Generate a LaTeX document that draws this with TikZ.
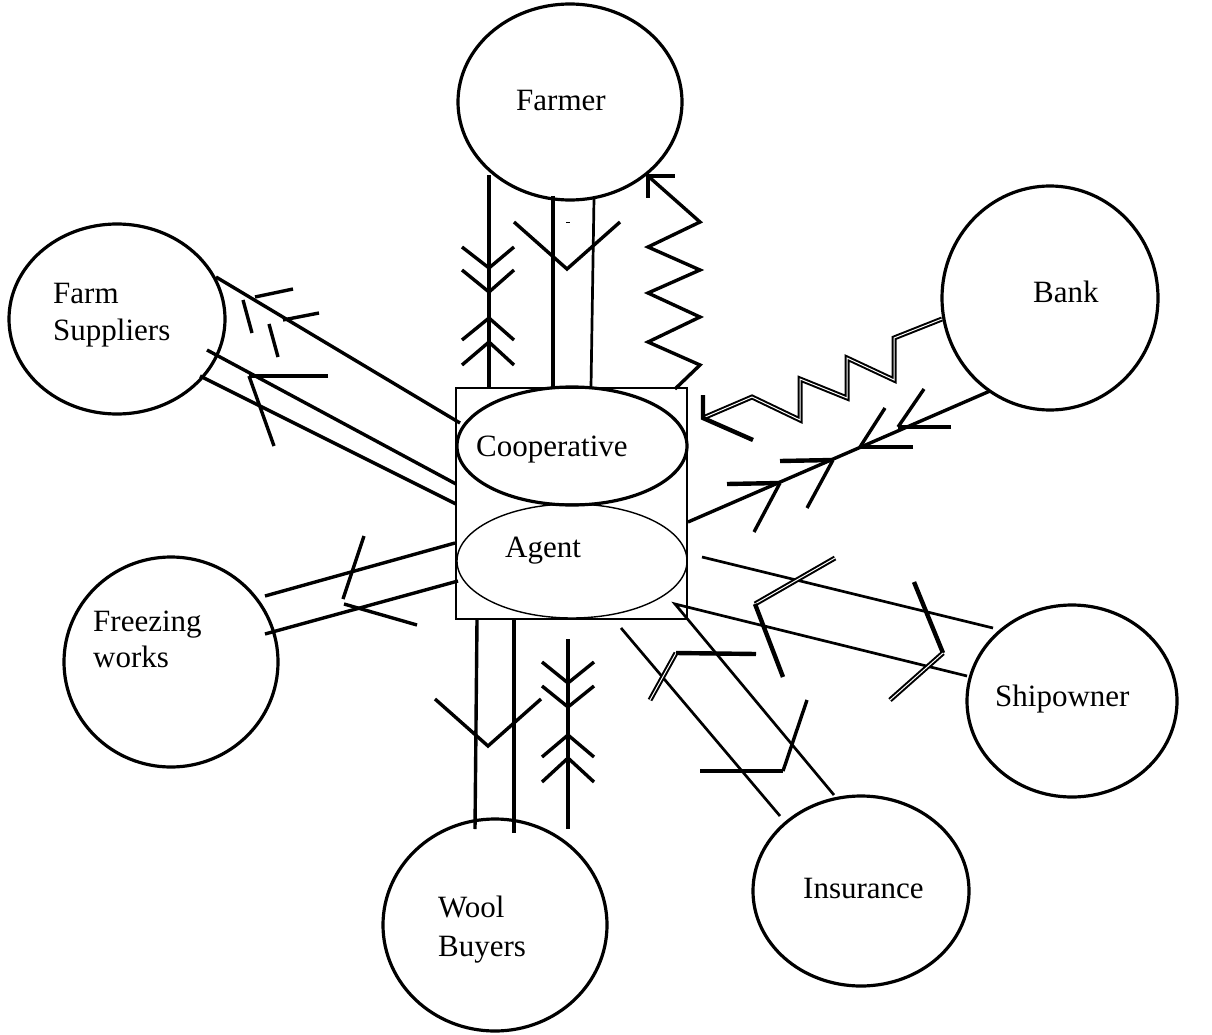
\documentclass[tikz,border=0pt]{standalone}
\usepackage{fontspec}
\setmainfont{Liberation Serif}
\usetikzlibrary{shapes.geometric}
\newcommand{\lbfont}{\fontsize{31}{37}\selectfont}
\begin{document}
\begin{tikzpicture}[x=1pt,y=-1pt,
  circ/.style={draw, line width=3.2pt, ellipse, inner sep=0pt, outer sep=0pt},
  conn/.style={line width=3.4pt},
  thinconn/.style={line width=2.7pt},
  bar/.style={line width=4.4pt},
  dbl/.style={double, line width=2pt, double distance=1pt},
  lbl/.style={anchor=base west, inner sep=0pt, font=\lbfont}]
\useasboundingbox (0,0) rectangle (1212,1035);

% ---------- outer circles ----------
\node[circ, minimum width=224pt, minimum height=196pt] (farmer) at (570,102) {};
\node[circ, minimum width=216pt, minimum height=190pt] (supp) at (117,319) {};
\node[circ, minimum width=216pt, minimum height=224pt] (bank) at (1050,298) {};
\node[circ, minimum width=214pt, minimum height=210pt] (freeze) at (171,662) {};
\node[circ, minimum width=224pt, minimum height=212pt] (wool) at (495,925) {};
\node[circ, minimum width=216pt, minimum height=190pt] (insur) at (861,891) {};
\node[circ, minimum width=210pt, minimum height=192pt] (ship) at (1072,701) {};

% ---------- labels ----------
\node[lbl] (tfarmer) at (516,111) {Farmer};
\node[lbl] (tfarm) at (53,303) {Farm};
\node[lbl] (tsupp) at (53,340) {Suppliers};
\node[lbl] (tbank) at (1033,302) {Bank};
\node[lbl] (tfreeze) at (93,631) {Freezing};
\node[lbl] (tworks) at (93,667) {works};
\node[lbl] (twool) at (438,917) {Wool};
\node[lbl] (tbuy) at (438,956) {Buyers};
\node[lbl] (tins) at (803,898) {Insurance};
\node[lbl] (tship) at (995,706) {Shipowner};

% ---------- central box ----------
\node[draw, line width=1.4pt, minimum width=231pt, minimum height=231pt, inner sep=0pt] (box) at (571.5,503.5) {};
\node[draw, ellipse, line width=3.2pt, minimum width=230pt, minimum height=118pt, inner sep=0pt] (coop) at (572,446) {};
\node[draw, ellipse, line width=1.4pt, minimum width=230pt, minimum height=114pt, inner sep=0pt] (agent) at (572,561) {};
\node[lbl] (tcoop) at (476,456) {Cooperative};
\node[lbl] (tagent) at (505,557) {Agent};

% ---------- Farmer connectors ----------
\draw[conn] (489,175) -- (489,389);
\draw[conn] (462,247) -- (489,268) -- (514,247);
\draw[conn] (462,270) -- (489,292) -- (514,270);
\draw[conn] (462,340) -- (489,318) -- (514,340);
\draw[conn] (462,365) -- (489,342) -- (514,365);
\draw[conn] (553,196) -- (553,389);
\draw[conn] (514,222) -- (567,269) -- (620,222);
\draw[line width=1pt] (566,222) -- (570,222);
\draw[thinconn] (594,198) -- (591,387);
\draw[conn, line join=miter] (675,389) -- (700,365) -- (648,342) -- (700,317) -- (648,293)
   -- (700,270) -- (648,247) -- (700,222) -- (648,176);
\draw[bar] (648,198) -- (648,176) -- (675,176);

% ---------- Bank connectors ----------
\draw[dbl] (942,319) -- (894,338) -- (894,380) -- (847,358) -- (847,398) -- (800,379)
   -- (800,420) -- (752,397) -- (703,418);
\draw[bar] (703,395) -- (703,418) -- (753,440);
\draw[conn] (990,391) -- (688,522);
\draw[bar] (727,484) -- (780,483);
\draw[conn] (780,483) -- (754,532);
\draw[bar] (780,461) -- (833,460);
\draw[conn] (833,460) -- (807,508);
\draw[bar] (913,447) -- (860,447);
\draw[conn] (860,447) -- (885,408);
\draw[bar] (951,427) -- (898,427);
\draw[conn] (898,427) -- (924,389);

% ---------- Farm Suppliers connectors ----------
\draw[conn] (216,277) -- (460,423);
\draw[conn] (255,297) -- (293,289);
\draw[conn] (283,320) -- (319,313);
\draw[conn] (243,300) -- (252,333);
\draw[conn] (269,324) -- (278,357);
\draw[conn] (207,350) -- (456,484);
\draw[conn] (200,376) -- (456,504);
\draw[bar] (328,376) -- (249,376);
\draw[conn] (249,376) -- (274,446);

% ---------- Freezing works connectors ----------
\draw[conn] (265,596) -- (455,543);
\draw[conn] (265,634) -- (458,581);
\draw[conn] (364,536) -- (343,599);
\draw[conn] (344,604) -- (417,625);

% ---------- Wool Buyers connectors ----------
\draw[conn] (477,620) -- (475,829);
\draw[conn] (514,620) -- (514,833);
\draw[conn] (435,699) -- (488,746) -- (541,699);
\draw[line width=3.8pt] (568,639) -- (568,829);
\draw[conn] (542,662) -- (568,683) -- (594,662);
\draw[conn] (542,686) -- (568,707) -- (594,686);
\draw[conn] (542,757) -- (568,735) -- (594,757);
\draw[conn] (542,782) -- (568,758) -- (594,782);

% ---------- Shipowner / Insurance connectors ----------
\draw[thinconn] (702,557) -- (993,628);
\draw[thinconn] (967,676) -- (675,604) -- (834,795);
\draw[thinconn] (621,628) -- (780,816);
\draw[dbl] (835,558) -- (755,604);
\draw[bar] (755,604) -- (783,677);
\draw[bar] (914,582) -- (943,653);
\draw[dbl] (943,653) -- (890,700);
\draw[dbl] (650,700) -- (676,653);
\draw[bar] (676,653) -- (756,654);
\draw[bar] (700,771) -- (783,771);
\draw[conn] (783,771) -- (807,700);
\end{tikzpicture}
\end{document}
